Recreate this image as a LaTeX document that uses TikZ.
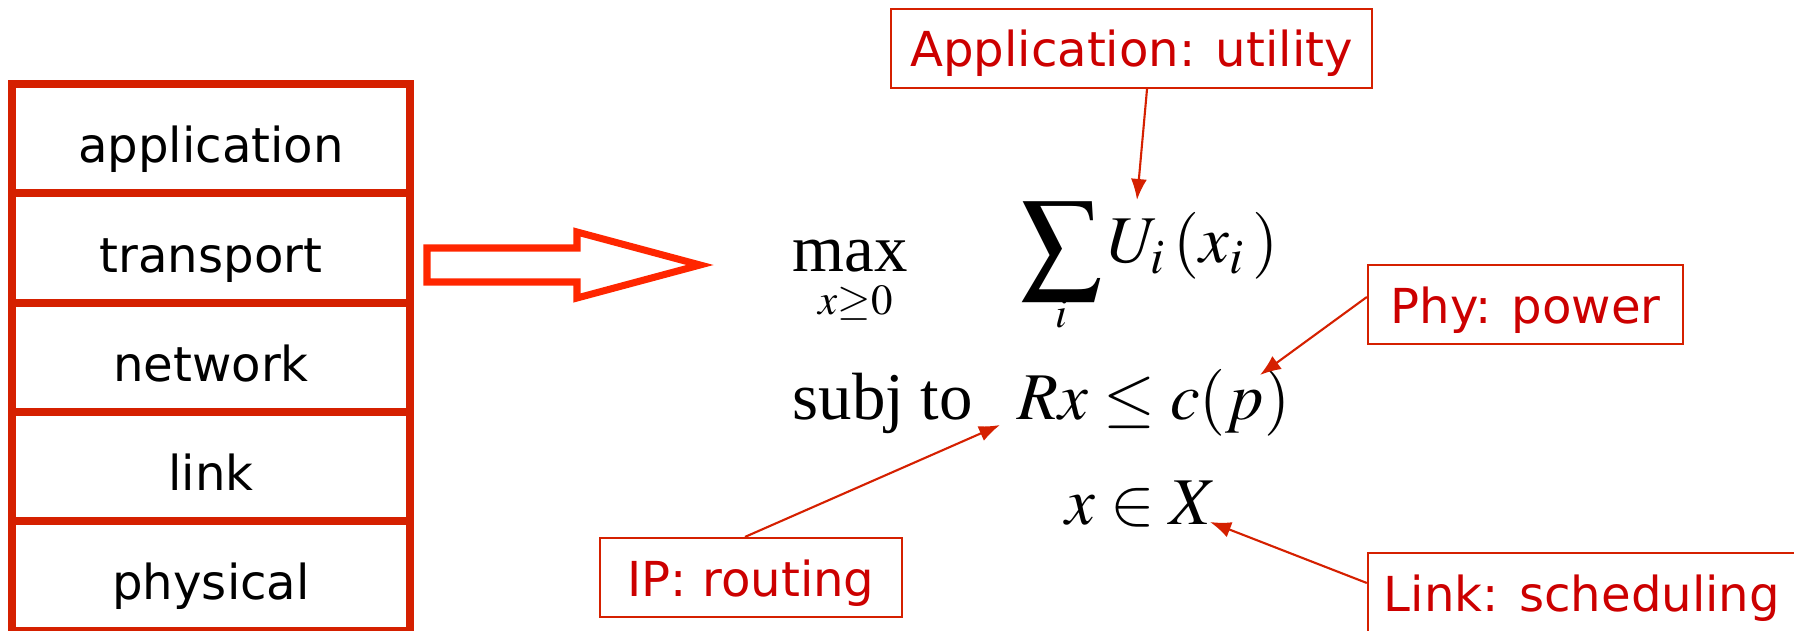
\documentclass[tikz,border=0pt]{standalone}
\usepackage{mathptmx}
\usepackage{fontspec}
\setmainfont{Liberation Serif}
\newfontfamily\labelfont{DejaVu Sans}
\usetikzlibrary{arrows.meta}
\definecolor{stackred}{RGB}{213,32,0}
\definecolor{arrowred}{RGB}{255,38,0}
\definecolor{notered}{RGB}{204,0,0}

\begin{document}
\begin{tikzpicture}[x=0.01cm,y=-0.01cm,
  stacklayer/.style={draw=stackred,line width=2.3pt,fill=white,minimum width=3.98cm,minimum height=1.093cm,
    text height=0.48cm,text depth=0pt,inner sep=0pt,font=\labelfont\fontsize{13.7}{16}\selectfont},
  eqn/.style={inner sep=0pt,anchor=base west,font=\fontsize{19}{23}\selectfont},
  smalleqn/.style={eqn,font=\fontsize{12.2}{14}\selectfont},
  notebox/.style={draw=stackred,line width=0.6pt,text=notered,minimum height=0.79cm,
    text height=0.37cm,text depth=0pt,inner sep=0pt,font=\labelfont\fontsize{13.7}{16}\selectfont},
  callout/.style={draw=stackred,line width=0.6pt,-{Latex[length=0.21cm,width=0.16cm]}}]
\useasboundingbox (0,0) rectangle (1794,631);

\node[stacklayer] (lapp) at (211,138.7) {application};
\node[stacklayer] (ltrans) at (211,248) {transport};
\node[stacklayer] (lnet) at (211,357.3) {network};
\node[stacklayer] (llink) at (211,466.6) {link};
\node[stacklayer] (lphy) at (211,575.9) {physical};

\draw[arrowred,line width=2pt,line join=miter] (427,248) -- (577,248) -- (577,232) -- (700,265)
  -- (577,298) -- (577,282) -- (427,282) -- cycle;

\node[eqn] (maxop) at (792,272) {max};
\node[smalleqn] (maxsub) at (818,315) {$x{\geq}0$};
\node[inner sep=0pt,font=\fontsize{22.8}{27}\selectfont] (sumop) at (1062,251) {$\displaystyle\sum$};
\node[smalleqn] (sumidx) at (1055,328) {$i$};
\node[eqn] (util) at (1107,263) {$U_{i}\,(x_{i}\,)$};
\node[eqn] (subj) at (792,420) {subj to};
\node[eqn] (cap) at (1017,420) {$Rx\leq c(p)$};
\node[eqn] (feas) at (1065,525) {$x\in X$};

\node[notebox,minimum width=4.81cm] (nutil) at (1131.5,48.5) {Application: utility};
\node[notebox,minimum width=3.15cm] (npow) at (1525.5,304.5) {Phy: power};
\node[notebox,minimum width=3.02cm] (nroute) at (751,577.5) {IP: routing};
\node[notebox,minimum width=4.28cm] (nsched) at (1582,592.5) {Link: scheduling};

\coordinate (utiltip) at (1137,200);
\coordinate (powtip) at (1260,375);
\coordinate (routetip) at (1000,425);
\coordinate (schedtip) at (1210,522);
\draw[callout] ([xshift=0.155cm]nutil.south) -- (utiltip);
\draw[callout] ([yshift=0.075cm]npow.west) -- (powtip);
\draw[callout] ([xshift=-0.06cm]nroute.north) -- (routetip);
\draw[callout] ([yshift=0.095cm]nsched.west) -- (schedtip);
\end{tikzpicture}
\end{document}
